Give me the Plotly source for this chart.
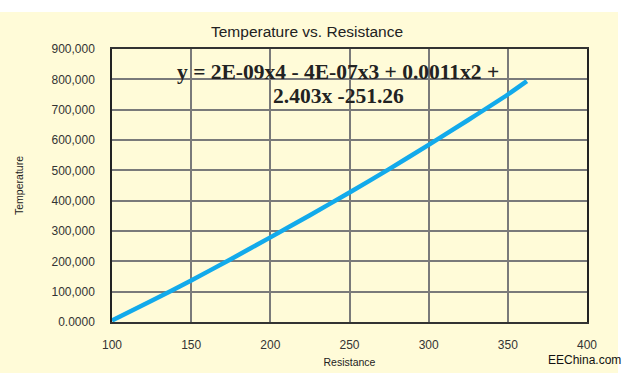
import plotly.graph_objects as go

resistance = [100, 125, 150, 175, 200, 225, 250, 275, 300, 325, 350, 362]
temperature = [5, 70, 137, 207, 279, 352, 427, 504, 584, 666, 750, 794]

x_ticks = [100, 150, 200, 250, 300, 350, 400]
y_ticks = [0, 100, 200, 300, 400, 500, 600, 700, 800, 900]
y_tick_labels = ["0.0000", "100,000", "200,000", "300,000", "400,000",
                 "500,000", "600,000", "700,000", "800,000", "900,000"]

title_text = "Temperature vs. Resistance"
eq_line1 = "y = 2E-09x4 - 4E-07x3 + 0.0011x2 +"
eq_line2 = "2.403x -251.26"

W, H = 630, 373
L, R, T, B = 112, 43, 49, 51
pw, ph = W - L - R, H - T - B
YEL = "rgb(255,251,216)"

def px(xp):
    return (xp - L) / pw

def py(yp):
    return (H - B - yp) / ph

fig = go.Figure()
fig.add_trace(go.Scatter(x=resistance, y=temperature, mode="lines",
                         line=dict(color="rgb(18,170,235)", width=4.5, shape="spline", smoothing=0.6),
                         hoverinfo="skip", showlegend=False))

fig.update_layout(
    width=W, height=H,
    margin=dict(l=L, r=R, t=T, b=B, autoexpand=False),
    paper_bgcolor="white",
    plot_bgcolor=YEL,
    showlegend=False,
    font=dict(family="Liberation Sans, Arial, sans-serif", color="#333"),
    shapes=[dict(type="rect", xref="paper", yref="paper", layer="below",
                 x0=px(0), x1=px(618), y0=py(373), y1=py(12),
                 fillcolor=YEL, line=dict(width=0))],
    xaxis=dict(range=[100, 400], tickvals=x_ticks, showgrid=True,
               gridcolor="#7a7a7a", gridwidth=1.5, zeroline=False,
               showline=True, linecolor="#333", linewidth=1.5, mirror=True,
               ticks="", ticklabelstandoff=11, automargin=False,
               tickfont=dict(size=12, color="#333"),
               title=dict(text="Resistance", font=dict(size=10.5, color="#222"), standoff=7)),
    yaxis=dict(range=[0, 900], tickvals=y_ticks, ticktext=y_tick_labels, showgrid=True,
               gridcolor="#7a7a7a", gridwidth=1.5, zeroline=False,
               showline=True, linecolor="#222", linewidth=1.5, mirror=True,
               ticks="", ticklabelstandoff=13, automargin=False,
               tickfont=dict(size=12, color="#333"),
               title=dict(text="Temperature", font=dict(size=10.5, color="#222"), standoff=26)),
    annotations=[
        dict(text=title_text, xref="paper", yref="paper", x=px(307), y=py(31),
             showarrow=False, xanchor="center", yanchor="middle",
             font=dict(size=15.5, color="#222")),
        dict(text="<b>" + eq_line1 + "</b>", xref="paper", yref="paper", x=px(338), y=py(72),
             showarrow=False, xanchor="center", yanchor="middle",
             font=dict(family="Liberation Serif, Times New Roman, serif", size=21.5, color="#222")),
        dict(text="<b>" + eq_line2 + "</b>", xref="paper", yref="paper", x=px(338), y=py(96),
             showarrow=False, xanchor="center", yanchor="middle",
             font=dict(family="Liberation Serif, Times New Roman, serif", size=21.5, color="#222")),
        dict(text="EEChina.com", xref="paper", yref="paper", x=px(623), y=py(360),
             showarrow=False, xanchor="right", yanchor="middle",
             font=dict(family="Liberation Sans Narrow, Liberation Sans, sans-serif", size=12, color="#111")),
    ],
)

fig.write_html("out.html", config={"displayModeBar": False},
               post_script="document.body.style.margin='0';document.body.style.overflow='hidden';")
